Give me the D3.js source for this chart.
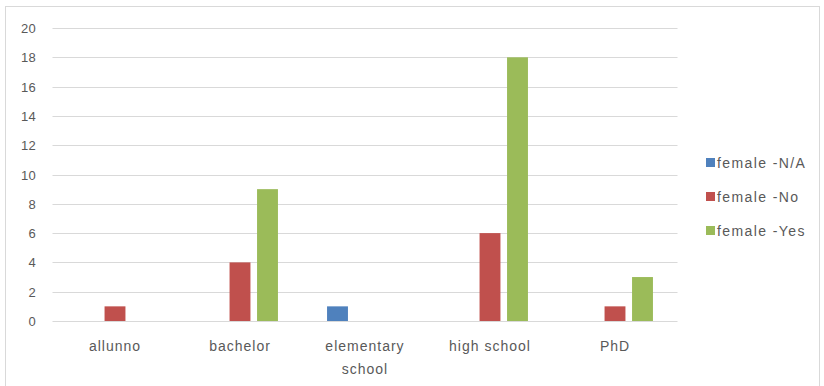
<!DOCTYPE html>
<html>
<head>
<meta charset="utf-8">
<script src="https://cdn.jsdelivr.net/npm/d3@7"></script>
<style>
  body { margin: 0; background: #fff; }
  text { font-family: "Liberation Sans", Arial, sans-serif; fill: #595959; }
</style>
</head>
<body>
<div id="chart"></div>
<script>
const categories = ["allunno", "bachelor", "elementary school", "high school", "PhD"];
const seriesNames = ["female -N/A", "female -No", "female -Yes"];
const naValues = [0, 0, 1, 0, 0];
const noValues = [1, 4, 0, 6, 1];
const yesValues = [0, 9, 0, 18, 3];
const yTicks = [0, 2, 4, 6, 8, 10, 12, 14, 16, 18, 20];
const colors = ["#4f81bd", "#c0504d", "#9bbb59"];

const seriesValues = [naValues, noValues, yesValues];
const data = categories.map((c, i) => ({
  cat: c,
  vals: seriesNames.map((s, j) => ({ key: s, value: seriesValues[j][i] }))
}));

const svgWidth = 824, svgHeight = 386;
const svg = d3.select("#chart").append("svg")
    .attr("width", svgWidth)
    .attr("height", svgHeight);

// chart border
svg.append("rect")
    .attr("x", 5.5).attr("y", 6.5)
    .attr("width", 814).attr("height", 385)
    .attr("fill", "none")
    .attr("stroke", "#d9d9d9");

const x0 = d3.scaleBand()
    .domain(categories)
    .range([52.5, 677.5]);

const x1 = d3.scaleBand()
    .domain(seriesNames)
    .range([0, 82.5])
    .paddingInner(0.24)
    .paddingOuter(0.12);

const y = d3.scaleLinear()
    .domain([0, 20])
    .range([321, 28]);

// gridlines
svg.append("g")
    .selectAll("line")
    .data(yTicks)
    .enter()
    .append("line")
    .attr("x1", 52.5).attr("x2", 677.5)
    .attr("y1", d => Math.round(y(d)) + 0.5)
    .attr("y2", d => Math.round(y(d)) + 0.5)
    .attr("stroke", "#d9d9d9");

// y labels
svg.append("g")
    .selectAll("text")
    .data(yTicks)
    .enter()
    .append("text")
    .attr("x", 36)
    .attr("y", d => y(d) + 5)
    .attr("text-anchor", "end")
    .style("font-size", "13px")
    .style("letter-spacing", "0.3px")
    .text(d => d);

// bars
const groups = svg.append("g")
    .selectAll("g")
    .data(data)
    .enter()
    .append("g")
    .attr("transform", d => "translate(" + (x0(d.cat) + x0.bandwidth() / 2 - 41.25) + ",0)");

groups.selectAll("rect")
    .data(d => d.vals.filter(v => v.value > 0))
    .enter()
    .append("rect")
    .attr("x", d => x1(d.key))
    .attr("y", d => y(d.value))
    .attr("width", x1.bandwidth())
    .attr("height", d => y(0) - y(d.value))
    .attr("fill", d => colors[seriesNames.indexOf(d.key)]);

// x labels
const xLabelLines = {
  "elementary school": ["elementary", "school"]
};
svg.append("g")
    .selectAll("text")
    .data(categories)
    .enter()
    .append("text")
    .attr("text-anchor", "middle")
    .attr("y", 351)
    .style("font-size", "14px")
    .style("letter-spacing", "1px")
    .each(function(d) {
      const lines = xLabelLines[d] || [d];
      const cx = x0(d) + x0.bandwidth() / 2;
      d3.select(this).selectAll("tspan")
        .data(lines)
        .enter()
        .append("tspan")
        .attr("x", cx)
        .attr("dy", (l, i) => i === 0 ? 0 : 23)
        .text(l => l);
    });

// legend
const legend = svg.append("g")
    .selectAll("g")
    .data(seriesNames)
    .enter()
    .append("g")
    .attr("transform", (d, i) => "translate(706," + (158 + i * 34) + ")");

legend.append("rect")
    .attr("width", 9).attr("height", 9)
    .attr("fill", (d, i) => colors[i]);

legend.append("text")
    .attr("x", 11)
    .attr("y", 10)
    .style("font-size", "14px")
    .style("letter-spacing", "1.4px")
    .text(d => d);
</script>
</body>
</html>
